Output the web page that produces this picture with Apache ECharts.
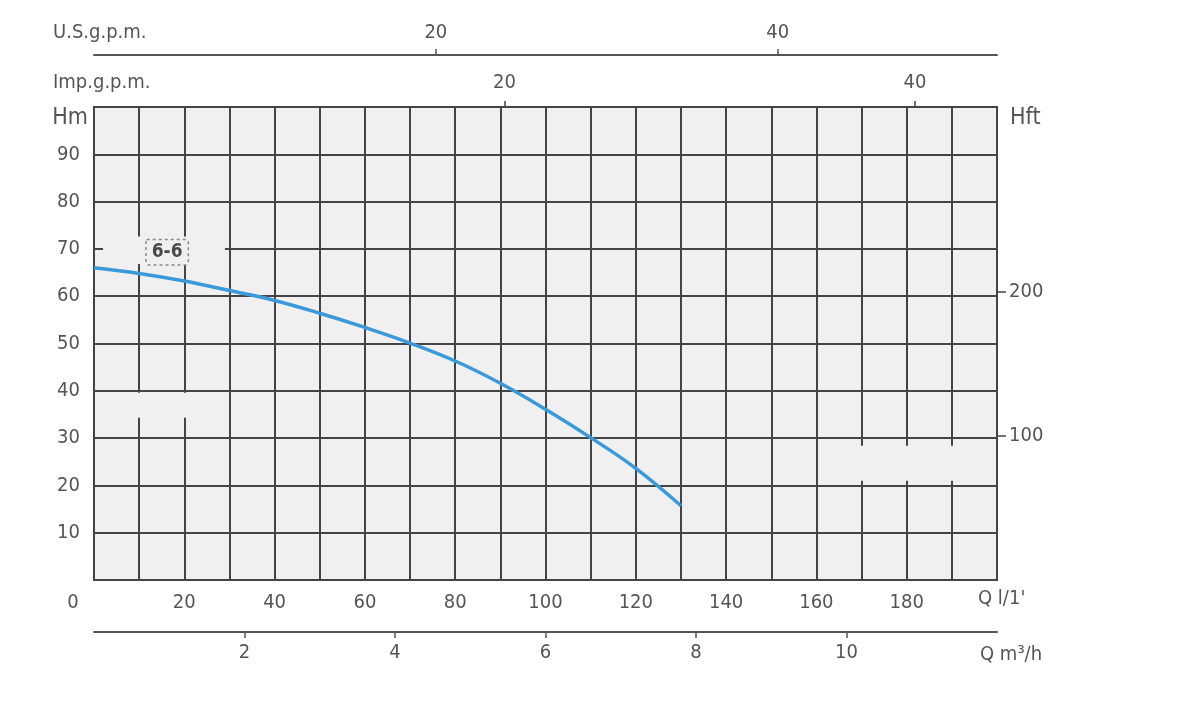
<!DOCTYPE html>
<html>
<head>
<meta charset="utf-8">
<script src="https://cdn.jsdelivr.net/npm/echarts@6/dist/echarts.min.js"></script>
<style>
  html, body { margin: 0; padding: 0; background: #fff; }
  #chart { width: 1200px; height: 716px; }
</style>
</head>
<body>
<div id="chart"></div>
<script>
// 曲线数据 Q (l/min) - H (m)
var flowLpm = [0, 10, 20, 30, 40, 50, 60, 70, 80, 90, 100, 110, 120, 130];
var headM = [66.0, 64.8, 63.2, 61.2, 59.1, 56.4, 53.4, 50.1, 46.3, 41.6, 36.1, 30.1, 23.6, 15.7];
var curveName = '6-6';
var curveLabelAt = [16.2, 69.3];

// 刻度
var qTicks = [0, 20, 40, 60, 80, 100, 120, 140, 160, 180];
var hTicks = [10, 20, 30, 40, 50, 60, 70, 80, 90];
var hftTicks = [100, 200];
var usTicks = [20, 40];
var impTicks = [20, 40];
var m3hTicks = [2, 4, 6, 8, 10];

// 网格断开处 (原图中被擦掉的线段)
var gapQ = [[5, 25], [2, 29], [165, 195]];
var gapH = [[34.3, 39.6], [66.8, 72.6], [21, 28.4]];

var Q_MAX = 200, H_MAX = 100;
var FONT = "'DejaVu Sans Condensed', 'DejaVu Sans', sans-serif";
var TXT = '#555';
var LINE = '#444';

var curveData = [];
for (var i = 0; i < flowLpm.length; i++) {
    curveData.push([flowLpm[i], headM[i]]);
}
var gapAreas = [];
for (var k = 0; k < gapQ.length; k++) {
    gapAreas.push([{ coord: [gapQ[k][0], gapH[k][0]] }, { coord: [gapQ[k][1], gapH[k][1]] }]);
}

var labelStyle = { color: TXT, fontFamily: FONT, fontSize: 20 };

var myChart = echarts.init(document.getElementById('chart'));
var option = {
    animation: false,
    backgroundColor: '#fff',
    grid: {
        left: 94, right: 203, top: 107, bottom: 136,
        show: true,
        backgroundColor: '#f0f0f0',
        borderColor: LINE,
        borderWidth: 2
    },
    xAxis: [{
        // Q l/1'
        type: 'value', min: 0, max: Q_MAX, interval: 10, position: 'bottom',
        axisLine: { show: false, onZero: false },
        axisTick: { show: false },
        axisLabel: Object.assign({
            customValues: qTicks, margin: 13,
            formatter: function (v) { return v === 0 ? '{o|0}' : String(v); },
            rich: { o: { color: TXT, fontFamily: FONT, fontSize: 20, padding: [0, 42, 0, 0] } }
        }, labelStyle),
        splitLine: { show: true, lineStyle: { color: LINE, width: 2 } },
        name: "Q l/1'", nameLocation: 'end', nameGap: -19,
        nameTextStyle: { color: TXT, fontFamily: FONT, fontSize: 20, align: 'left', verticalAlign: 'top', padding: [9, 0, 0, 0] }
    }, {
        // Q m3/h
        type: 'value', min: 0, max: Q_MAX * 60 / 1000, position: 'bottom', offset: 52,
        axisLine: { show: true, onZero: false, lineStyle: { color: TXT, width: 2 } },
        axisTick: { show: true, customValues: m3hTicks, length: 6, lineStyle: { color: TXT, width: 1.5 } },
        axisLabel: Object.assign({ customValues: m3hTicks, margin: 11 }, labelStyle),
        splitLine: { show: false },
        name: 'Q m³/h', nameLocation: 'end', nameGap: -17,
        nameTextStyle: { color: TXT, fontFamily: FONT, fontSize: 20, align: 'left', verticalAlign: 'top', padding: [13, 0, 0, 0] }
    }, {
        // Imp.g.p.m.
        type: 'value', min: 0, max: Q_MAX / 4.54609, position: 'top', offset: 0,
        axisLine: { show: false, onZero: false },
        axisTick: { show: true, customValues: impTicks, length: 6, lineStyle: { color: LINE, width: 1.5 } },
        axisLabel: Object.assign({ customValues: impTicks, margin: 14 }, labelStyle),
        splitLine: { show: false },
        name: 'Imp.g.p.m.', nameLocation: 'start', nameGap: 41,
        nameTextStyle: { color: TXT, fontFamily: FONT, fontSize: 20, align: 'left', verticalAlign: 'bottom', padding: [0, 0, 14, 0] }
    }, {
        // U.S.g.p.m.
        type: 'value', min: 0, max: Q_MAX / 3.78541, position: 'top', offset: 52,
        axisLine: { show: true, onZero: false, lineStyle: { color: TXT, width: 2 } },
        axisTick: { show: true, customValues: usTicks, length: 6, lineStyle: { color: TXT, width: 1.5 } },
        axisLabel: Object.assign({ customValues: usTicks, margin: 12 }, labelStyle),
        splitLine: { show: false },
        name: 'U.S.g.p.m.', nameLocation: 'start', nameGap: 41,
        nameTextStyle: { color: TXT, fontFamily: FONT, fontSize: 20, align: 'left', verticalAlign: 'bottom', padding: [0, 0, 12, 0] }
    }],
    yAxis: [{
        // Hm
        type: 'value', min: 0, max: H_MAX, interval: 10, position: 'left',
        axisLine: { show: false, onZero: false },
        axisTick: { show: false },
        axisLabel: Object.assign({ customValues: hTicks, margin: 14 }, labelStyle),
        splitLine: { show: true, lineStyle: { color: LINE, width: 2 } },
        name: 'Hm', nameLocation: 'end', nameGap: -11,
        nameTextStyle: { color: TXT, fontFamily: FONT, fontSize: 23, align: 'right', verticalAlign: 'middle', padding: [0, 6, 0, 0] }
    }, {
        // Hft
        type: 'value', min: 0, max: H_MAX / 0.3048, position: 'right',
        axisLine: { show: false, onZero: false },
        axisTick: { show: true, customValues: hftTicks, length: 9, lineStyle: { color: LINE, width: 1.5 } },
        axisLabel: Object.assign({ customValues: hftTicks, margin: 12 }, labelStyle),
        splitLine: { show: false },
        name: 'Hft', nameLocation: 'end', nameGap: -11,
        nameTextStyle: { color: TXT, fontFamily: FONT, fontSize: 23, align: 'left', verticalAlign: 'middle', padding: [0, 0, 0, 13] }
    }],
    series: [{
        // 擦掉的网格线
        type: 'line', xAxisIndex: 0, yAxisIndex: 0, z: 1, silent: true,
        data: [],
        markArea: {
            silent: true,
            itemStyle: { color: '#f0f0f0', opacity: 1, borderWidth: 0 },
            label: { show: false },
            data: gapAreas
        }
    }, {
        type: 'line', name: curveName, xAxisIndex: 0, yAxisIndex: 0, z: 3,
        smooth: 0.4, showSymbol: false, symbol: 'none',
        lineStyle: { color: '#3a9ad9', width: 3.5 },
        data: curveData,
        markPoint: {
            symbol: 'rect', symbolSize: 1,
            itemStyle: { color: 'rgba(0,0,0,0)' },
            label: {
                show: true, position: 'inside',
                formatter: curveName,
                color: '#4a4a4a', fontFamily: FONT, fontSize: 19, fontWeight: 'bold',
                backgroundColor: '#f0f0f0',
                borderColor: '#888', borderWidth: 1.5, borderType: 'dotted',
                padding: [3, 5, 2, 5]
            },
            data: [{ coord: curveLabelAt }]
        }
    }]
};
myChart.setOption(option);
</script>
</body>
</html>
